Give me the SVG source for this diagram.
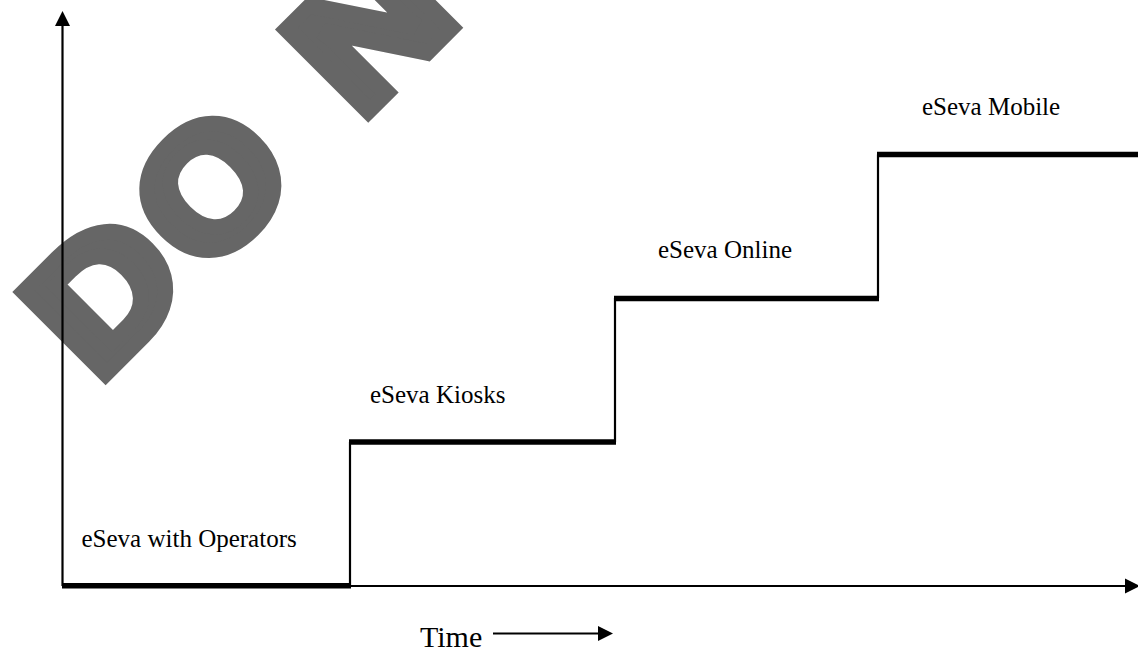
<svg xmlns="http://www.w3.org/2000/svg" width="1138" height="649" viewBox="0 0 1138 649">
<style>
.wm{fill:#666666;stroke:#666666;stroke-width:15;stroke-linejoin:miter;font-family:"Liberation Sans",Arial,sans-serif;font-weight:bold;font-size:170px}
.axis{stroke:#000;stroke-width:2.2;fill:none}
.riser{stroke:#000;stroke-width:2.2;fill:none}
.tread{stroke:#000;stroke-width:5.5;fill:none}
.lbl{font-family:"Liberation Serif","Times New Roman",serif;font-size:25px;fill:#000}
.time{font-family:"Liberation Serif","Times New Roman",serif;font-size:30px;fill:#000}
</style>
<defs>
<marker id="ah" markerUnits="userSpaceOnUse" markerWidth="15" markerHeight="16" refX="0" refY="8" orient="auto" viewBox="0 0 15 16">
<path d="M0,0.5 L15,8 L0,15.5 z" fill="#000"/>
</marker>
</defs>
<rect width="1138" height="649" fill="#fff"/>
<g id="watermark" transform="translate(106,385) rotate(-45)">
<text class="wm" text-anchor="middle" transform="translate(64,-7.5) scale(1.12,1)">D</text>
<text class="wm" text-anchor="middle" transform="translate(214,-7.5) scale(1.05,1)">O</text>
<text class="wm" text-anchor="middle" transform="translate(438,-7.5) scale(1.17,1)">N</text>
</g>
<g id="connectors">
<line class="axis" x1="62.5" y1="586" x2="62.5" y2="26" marker-end="url(#ah)"/>
<line class="axis" x1="62.5" y1="586" x2="1125" y2="586" marker-end="url(#ah)"/>
<line class="axis" x1="493" y1="633.5" x2="598" y2="633.5" marker-end="url(#ah)"/>
<line class="riser" x1="350" y1="586" x2="350" y2="442"/>
<line class="riser" x1="615" y1="442" x2="615" y2="298"/>
<line class="riser" x1="878" y1="298" x2="878" y2="154.5"/>
</g>
<g id="stage-operators">
<line class="tread" x1="62" y1="585.8" x2="351" y2="585.8"/>
<text class="lbl" x="81.5" y="547">eSeva with Operators</text>
</g>
<g id="stage-kiosks">
<line class="tread" x1="349" y1="442" x2="616" y2="442"/>
<text class="lbl" x="370" y="403">eSeva Kiosks</text>
</g>
<g id="stage-online">
<line class="tread" x1="614" y1="298.5" x2="879" y2="298.5"/>
<text class="lbl" x="658" y="258">eSeva Online</text>
</g>
<g id="stage-mobile">
<line class="tread" x1="877" y1="154.5" x2="1138" y2="154.5"/>
<text class="lbl" x="922" y="115">eSeva Mobile</text>
</g>
<g id="time-label">
<text class="time" x="420" y="646.5">Time</text>
</g>
</svg>
